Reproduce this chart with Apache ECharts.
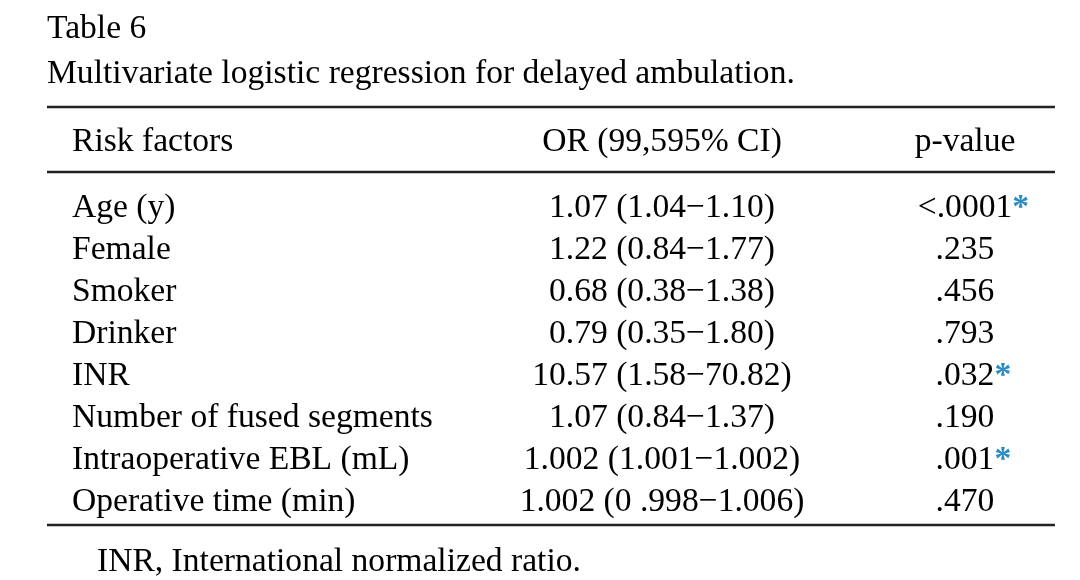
<!DOCTYPE html>
<html>
<head>
<meta charset="utf-8">
<script src="https://cdn.jsdelivr.net/npm/echarts@6/dist/echarts.min.js"></script>
<style>html,body{margin:0;padding:0;background:#fff}#c{width:1080px;height:580px}</style>
</head>
<body>
<div id="c"></div>
<script>
var tableTitle = 'Table 6';
var tableCaption = 'Multivariate logistic regression for delayed ambulation.';
var headers = ['Risk factors', 'OR (99,595% CI)', 'p-value'];
var riskFactors = ['Age (y)', 'Female', 'Smoker', 'Drinker', 'INR', 'Number of fused segments', 'Intraoperative EBL (mL)', 'Operative time (min)'];
var orCI = ['1.07 (1.04\u22121.10)', '1.22 (0.84\u22121.77)', '0.68 (0.38\u22121.38)', '0.79 (0.35\u22121.80)', '10.57 (1.58\u221270.82)', '1.07 (0.84\u22121.37)', '1.002 (1.001\u22121.002)', '1.002 (0 .998\u22121.006)'];
var pValues = ['<.0001', '.235', '.456', '.793', '.032', '.190', '.001', '.470'];
var significant = [true, false, false, false, true, false, true, false];
var footnote = 'INR, International normalized ratio.';

var FONT = '"Liberation Serif","Times New Roman",serif';
var FS = 33.6;
var TXT = '#000';
var STAR = '#2b8cc4';
var RULE = '#222';
var colX = [72, 662, 965];

var chart = echarts.init(document.getElementById('c'), null, {renderer: 'canvas'});

function rows(col) {
  return riskFactors.map(function (r, i) { return [colX[col], r, i]; });
}

var option = {
  backgroundColor: '#fff',
  animation: false,
  grid: {left: 0, right: 0, top: 187, bottom: 57},
  xAxis: {type: 'value', min: 0, max: 1080, show: false},
  yAxis: {type: 'category', data: riskFactors, inverse: true, show: false},
  series: [
    {
      type: 'scatter', symbolSize: 0, data: rows(0), itemStyle: {opacity: 1},
      label: {show: true, position: 'inside', align: 'left', verticalAlign: 'middle',
        fontFamily: FONT, fontSize: FS, color: TXT,
        formatter: function (p) { return riskFactors[p.data[2]]; }}
    },
    {
      type: 'scatter', symbolSize: 0, data: rows(1), itemStyle: {opacity: 1},
      label: {show: true, position: 'inside', align: 'center', verticalAlign: 'middle',
        fontFamily: FONT, fontSize: FS, color: TXT,
        formatter: function (p) { return orCI[p.data[2]]; }}
    },
    {
      type: 'scatter', symbolSize: 0, data: rows(2), itemStyle: {opacity: 1},
      label: {show: true, position: 'inside', align: 'center', verticalAlign: 'middle',
        fontFamily: FONT, fontSize: FS, color: TXT,
        formatter: function (p) {
          var i = p.data[2];
          return significant[i] ? '{h|*}{v|' + pValues[i] + '}{s|*}' : '{v|' + pValues[i] + '}';
        },
        rich: {
          v: {fontFamily: FONT, fontSize: FS, color: TXT},
          s: {fontFamily: FONT, fontSize: FS, color: STAR, fontWeight: 'bold'},
          h: {fontFamily: FONT, fontSize: FS, color: 'rgba(0,0,0,0)', fontWeight: 'bold'}
        }}
    }
  ],
  graphic: [
    {type: 'text', left: 47, top: 12, style: {text: tableTitle, font: FS + 'px ' + FONT, fill: TXT}},
    {type: 'text', left: 47, top: 57, style: {text: tableCaption, font: FS + 'px ' + FONT, fill: TXT}},
    {type: 'line', shape: {x1: 47, y1: 107, x2: 1055, y2: 107}, style: {stroke: RULE, lineWidth: 2.5}},
    {type: 'line', shape: {x1: 47, y1: 172, x2: 1055, y2: 172}, style: {stroke: RULE, lineWidth: 2.5}},
    {type: 'line', shape: {x1: 47, y1: 525, x2: 1055, y2: 525}, style: {stroke: RULE, lineWidth: 2.5}},
    {type: 'text', x: colX[0], y: 142, style: {text: headers[0], font: FS + 'px ' + FONT, fill: TXT, textAlign: 'left', textVerticalAlign: 'middle'}},
    {type: 'text', x: colX[1], y: 142, style: {text: headers[1], font: FS + 'px ' + FONT, fill: TXT, textAlign: 'center', textVerticalAlign: 'middle'}},
    {type: 'text', x: colX[2], y: 142, style: {text: headers[2], font: FS + 'px ' + FONT, fill: TXT, textAlign: 'center', textVerticalAlign: 'middle'}},
    {type: 'text', left: 97, top: 545, style: {text: footnote, font: FS + 'px ' + FONT, fill: TXT}}
  ]
};
chart.setOption(option);
</script>
</body>
</html>
